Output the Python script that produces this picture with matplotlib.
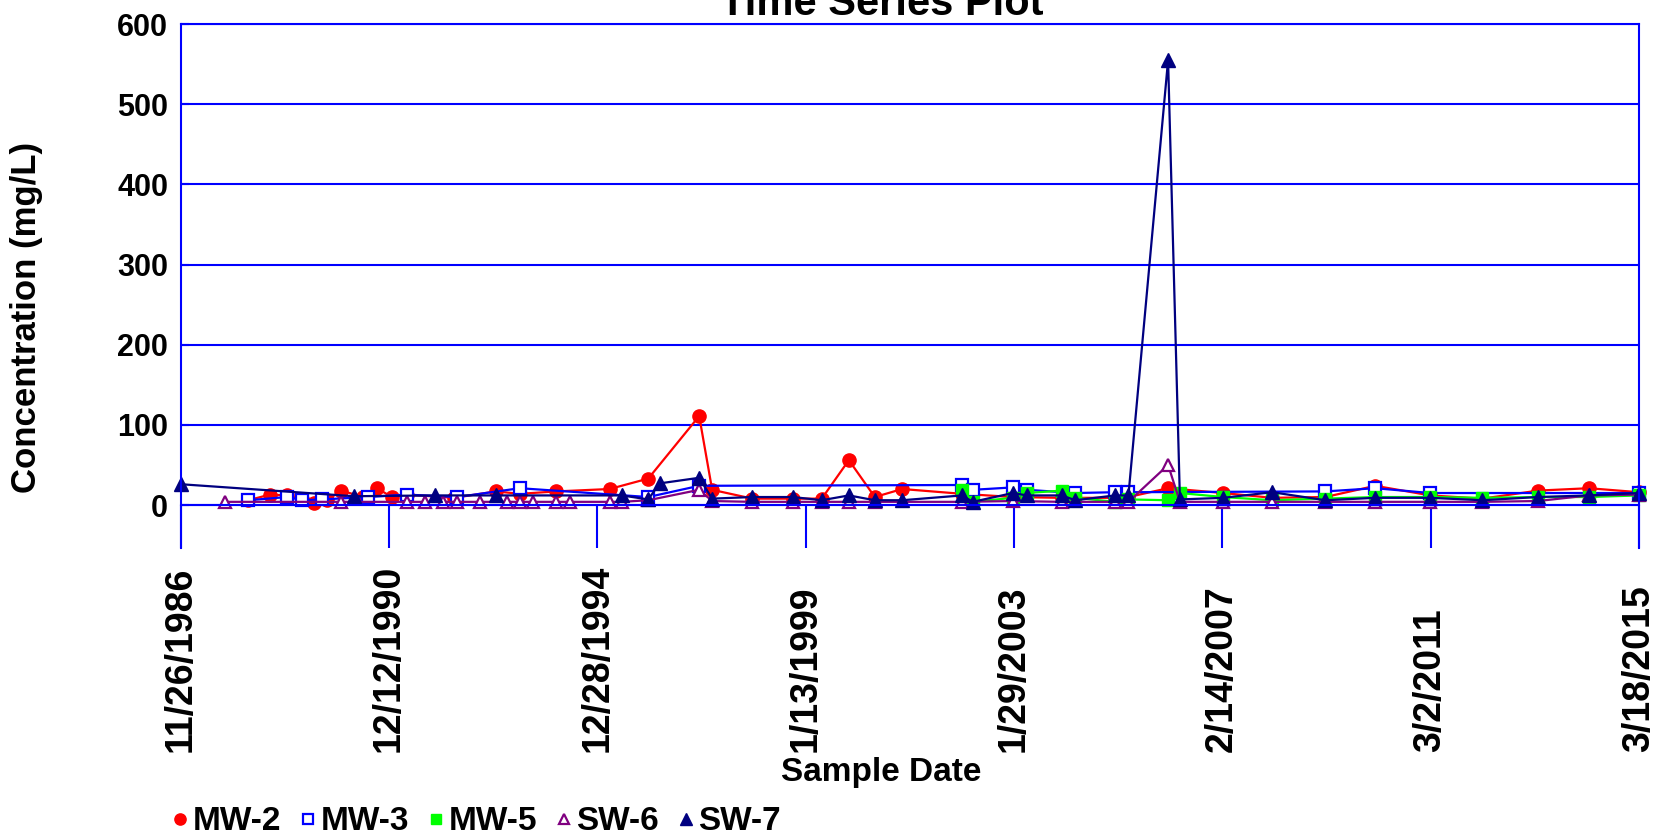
import pandas as pd
import matplotlib.pyplot as plt
import matplotlib.transforms as mtransforms
from matplotlib.lines import Line2D

plt.rcParams['font.family'] = ['Liberation Sans', 'DejaVu Sans']
plt.rcParams['font.weight'] = 'bold'

# sample dates and concentrations (mg/L) per well
mw2_dates = ["1988-03-20", "1988-08-20", "1988-12-20", "1989-04-08", "1989-07-01", "1989-10-01",
             "1990-01-08", "1990-06-14", "1990-09-20", "1991-01-01", "1991-04-20", "1992-03-20",
             "1993-01-08", "1993-06-28", "1994-03-14", "1995-03-26", "1995-12-25", "1996-12-20",
             "1997-03-22", "1998-01-01", "1998-10-16", "1999-05-08", "1999-11-16", "2000-05-18",
             "2000-11-28", "2002-01-26", "2003-01-22", "2004-01-04", "2005-01-15", "2005-04-20",
             "2006-01-26", "2007-02-20", "2008-02-03", "2009-02-14", "2010-02-03", "2011-02-28",
             "2012-03-03", "2013-04-01", "2014-03-28", "2015-03-18"]
mw2_vals = [6, 13, 12, 7, 3, 6,
            18, 10, 21, 10, 13, 9,
            17, 14, 17, 20, 33, 111,
            19, 8, 8, 8, 56, 10,
            20, 14, 10, 9, 9, 10,
            21, 15, 9, 10, 24, 12,
            8, 18, 21, 16]

mw3_dates = ["1988-03-20", "1988-12-20", "1989-04-08", "1989-08-25", "1990-07-16", "1991-04-20",
             "1992-04-08", "1993-06-28", "1995-12-25", "1996-12-20", "2002-01-26", "2002-04-12",
             "2003-01-22", "2003-05-01", "2004-04-08", "2005-01-15", "2005-04-20", "2009-02-14",
             "2010-02-03", "2011-02-28", "2015-03-18"]
mw3_vals = [6, 10, 6, 7, 10, 13,
            10, 21, 10, 24, 25, 19,
            22, 19, 15, 16, 16, 17,
            21, 15, 15]

mw5_dates = ["2002-01-26", "2002-04-12", "2003-01-22", "2003-05-01", "2004-01-04", "2004-04-08",
             "2005-01-15", "2005-04-20", "2006-01-26", "2006-04-20", "2007-02-20", "2008-02-03",
             "2009-02-14", "2010-02-03", "2011-02-28", "2012-03-03", "2013-04-01", "2014-03-28",
             "2015-03-18"]
mw5_vals = [19, 4, 9, 15, 18, 9,
            4, 7, 6, 15, 10, 6,
            8, 10, 10, 9, 10, 10,
            12]

sw6_dates = ["1987-10-08", "1990-01-08", "1991-04-20", "1991-08-25", "1992-01-01", "1992-04-08",
             "1992-09-20", "1993-03-28", "1993-06-28", "1993-10-01", "1994-03-14", "1994-06-18",
             "1995-03-26", "1995-06-20", "1995-12-25", "1996-12-20", "1997-03-22", "1998-01-01",
             "1998-10-16", "1999-05-08", "1999-11-16", "2000-05-18", "2002-01-26", "2003-01-22",
             "2004-01-04", "2005-01-15", "2005-04-20", "2006-01-26", "2006-04-20", "2007-02-20",
             "2008-02-03", "2009-02-14", "2010-02-03", "2011-02-28", "2012-03-03", "2013-04-01",
             "2014-03-28", "2015-03-18"]
sw6_vals = [4, 4, 4, 4, 4, 4,
            4, 4, 4, 4, 4, 4,
            4, 4, 6, 19, 5, 4,
            4, 4, 4, 4, 4, 5,
            4, 4, 4, 50, 4, 4,
            4, 4, 4, 4, 4, 5,
            12, 13]

sw7_dates = ["1986-11-26", "1990-04-08", "1991-11-03", "1993-01-08", "1995-06-20", "1995-12-25",
             "1996-03-14", "1996-12-20", "1997-03-22", "1998-01-01", "1998-10-16", "1999-05-08",
             "1999-11-16", "2000-05-18", "2000-11-28", "2002-01-26", "2002-04-12", "2003-01-22",
             "2003-05-01", "2004-01-04", "2004-04-08", "2005-01-15", "2005-04-20", "2006-01-26",
             "2006-04-20", "2007-02-20", "2008-02-03", "2009-02-14", "2010-02-03", "2011-02-28",
             "2012-03-03", "2013-04-01", "2014-03-28", "2015-03-18"]
sw7_vals = [26, 11, 12, 12, 12, 7,
            27, 34, 8, 10, 10, 6,
            12, 6, 6, 12, 4, 15,
            12, 12, 6, 12, 12, 555,
            7, 9, 16, 6, 9, 9,
            6, 10, 12, 15]

tick_dates = ["1986-11-26", "1990-12-12", "1994-12-28", "1999-01-13",
              "2003-01-29", "2007-02-14", "2011-03-02", "2015-03-18"]
tick_labels = ["11/26/1986", "12/12/1990", "12/28/1994", "1/13/1999",
               "1/29/2003", "2/14/2007", "3/2/2011", "3/18/2015"]

series = [
    ("MW-2", mw2_dates, mw2_vals, dict(color="#ff0000", marker="o", ms=9.5, mfc="#ff0000", mew=1)),
    ("MW-3", mw3_dates, mw3_vals, dict(color="#0000ff", marker="s", ms=8, mfc="white", mew=1.6)),
    ("MW-5", mw5_dates, mw5_vals, dict(color="#00ff00", marker="s", ms=8.5, mfc="#00ff00", mew=1)),
    ("SW-6", sw6_dates, sw6_vals, dict(color="#800080", marker="^", ms=9, mfc="white", mew=1.6)),
    ("SW-7", sw7_dates, sw7_vals, dict(color="#000080", marker="^", ms=9.5, mfc="#000080", mew=1)),
]

fig = plt.figure(figsize=(16.56, 8.4), dpi=100)
ax = fig.add_axes([0.109, 0.3476, 0.8807, 0.6238])

handles = []
for name, d, v, st in series:
    ax.plot(pd.to_datetime(d), v, color=st["color"], lw=1.6, marker=st["marker"], ms=st["ms"],
            mfc=st["mfc"], mec=st["color"], mew=st["mew"], clip_on=False)
    handles.append(Line2D([], [], ls="none", marker=st["marker"], ms=st["ms"] * 0.85,
                          mfc=st["mfc"], mec=st["color"], mew=st["mew"]))

ax.set_xlim(pd.Timestamp("1986-11-26"), pd.Timestamp("2015-03-18"))
ax.set_ylim(-53.6, 600)

ticks = pd.to_datetime(tick_dates)
ax.set_xticks(ticks)
ax.tick_params(axis="x", direction="out", length=31, width=1.5, color="#0000ff",
               labelbottom=False)

# upright date labels, their first characters sitting on one common line
lab_tr = mtransforms.blended_transform_factory(ax.transData, fig.transFigure)
for t, lab in zip(ticks, tick_labels):
    ax.text(t, 1 - 752 / 840, lab, transform=lab_tr, rotation=90, ha="center", va="bottom",
            fontsize=27, fontweight="bold", clip_on=False)

ax.set_yticks(range(0, 601, 100))
ax.tick_params(axis="y", direction="in", length=6, width=1.5, color="#0000ff", labelsize=22, pad=9)
ax.yaxis.grid(True, color="#0000ff", lw=1.5)

ax.spines["bottom"].set_position(("data", 0))
for sp in ax.spines.values():
    sp.set_color("#0000ff")
    sp.set_linewidth(1.5)

fig.text(882 / 1656, 1 - 15 / 840, "Time Series Plot", ha="center", va="baseline",
         fontsize=30, fontweight="bold")
fig.text(881 / 1656, 1 - 773 / 840, "Sample Date", ha="center", va="center",
         fontsize=24, fontweight="bold")
fig.text(27 / 1656, 1 - 317 / 840, "Concentration (mg/L)", rotation=90, ha="center",
         va="center", fontsize=25, fontweight="bold")

fig.legend(handles, [s[0] for s in series], loc="center left",
           bbox_to_anchor=(170 / 1656, 1 - 822 / 840), ncol=5, frameon=False,
           handlelength=0.6, handletextpad=0.08, columnspacing=0.5, borderpad=0,
           borderaxespad=0, fontsize=24)

fig.savefig("out.png", dpi=100)
